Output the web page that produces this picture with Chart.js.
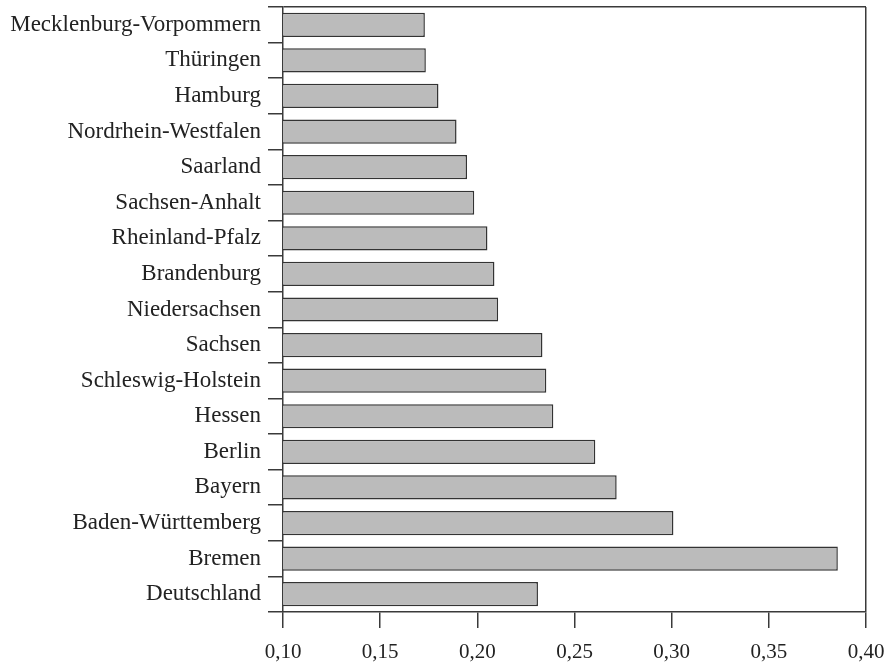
<!DOCTYPE html>
<html>
<head>
<meta charset="utf-8">
<script src="https://cdn.jsdelivr.net/npm/chart.js@4"></script>
<style>
html,body{margin:0;padding:0;background:#fff;}
#wrap{width:885px;height:664px;position:relative;}
</style>
</head>
<body>
<div id="wrap"><canvas id="c" width="885" height="664"></canvas></div>
<script>
const categories = ["Mecklenburg-Vorpommern","Thüringen","Hamburg","Nordrhein-Westfalen","Saarland","Sachsen-Anhalt","Rheinland-Pfalz","Brandenburg","Niedersachsen","Sachsen","Schleswig-Holstein","Hessen","Berlin","Bayern","Baden-Württemberg","Bremen","Deutschland"];
const values = [0.173,0.1735,0.180,0.1893,0.1947,0.1984,0.2052,0.2088,0.2107,0.2335,0.2355,0.2391,0.2607,0.2717,0.3009,0.3855,0.2312];
const xMin = 0.10, xMax = 0.40, xStep = 0.05;

const lineColor = '#3a3a3a';
const family = "'Liberation Serif','Times New Roman',serif";

new Chart(document.getElementById('c'), {
  type: 'bar',
  data: {
    labels: categories,
    datasets: [{
      data: values,
      backgroundColor: '#bbbbbb',
      borderColor: '#333333',
      borderWidth: 1.5,
      borderSkipped: false,
      barPercentage: 0.68,
      categoryPercentage: 1.0
    }]
  },
  options: {
    indexAxis: 'y',
    responsive: false,
    animation: false,
    devicePixelRatio: 1,
    layout: {padding: {top: 7, right: 19, left: 0, bottom: 0}},
    plugins: {legend: {display: false}, tooltip: {enabled: false}},
    scales: {
      x: {
        min: xMin, max: xMax,
        border: {display: true, color: lineColor, width: 1.5},
        grid: {
          drawOnChartArea: true,
          drawTicks: true,
          tickLength: 16,
          color: (ctx) => (ctx.tick && Math.abs(ctx.tick.value - xMax) < 1e-9) ? lineColor : 'rgba(0,0,0,0)',
          tickColor: lineColor,
          lineWidth: 1.5,
          tickWidth: 1.5
        },
        ticks: {
          stepSize: xStep,
          color: '#222',
          font: {family: family, size: 21},
          padding: 12,
          maxRotation: 0,
          callback: (v) => Number(v).toFixed(2).replace('.', ',')
        },
        afterFit: (s) => { s.height = 52; s.paddingLeft = 0; s.paddingRight = 0; }
      },
      y: {
        offset: true,
        border: {display: true, color: lineColor, width: 1.5},
        grid: {
          offset: true,
          drawOnChartArea: true,
          drawTicks: true,
          tickLength: 15,
          color: (ctx) => ctx.index === 0 ? lineColor : 'rgba(0,0,0,0)',
          tickColor: lineColor,
          lineWidth: 1.5,
          tickWidth: 1.5
        },
        ticks: {
          color: '#222',
          font: {family: family, size: 23},
          padding: 7,
          autoSkip: false
        },
        afterFit: (s) => { s.width = 283; s.paddingTop = 0; s.paddingBottom = 0; }
      }
    }
  }
});
</script>
</body>
</html>
